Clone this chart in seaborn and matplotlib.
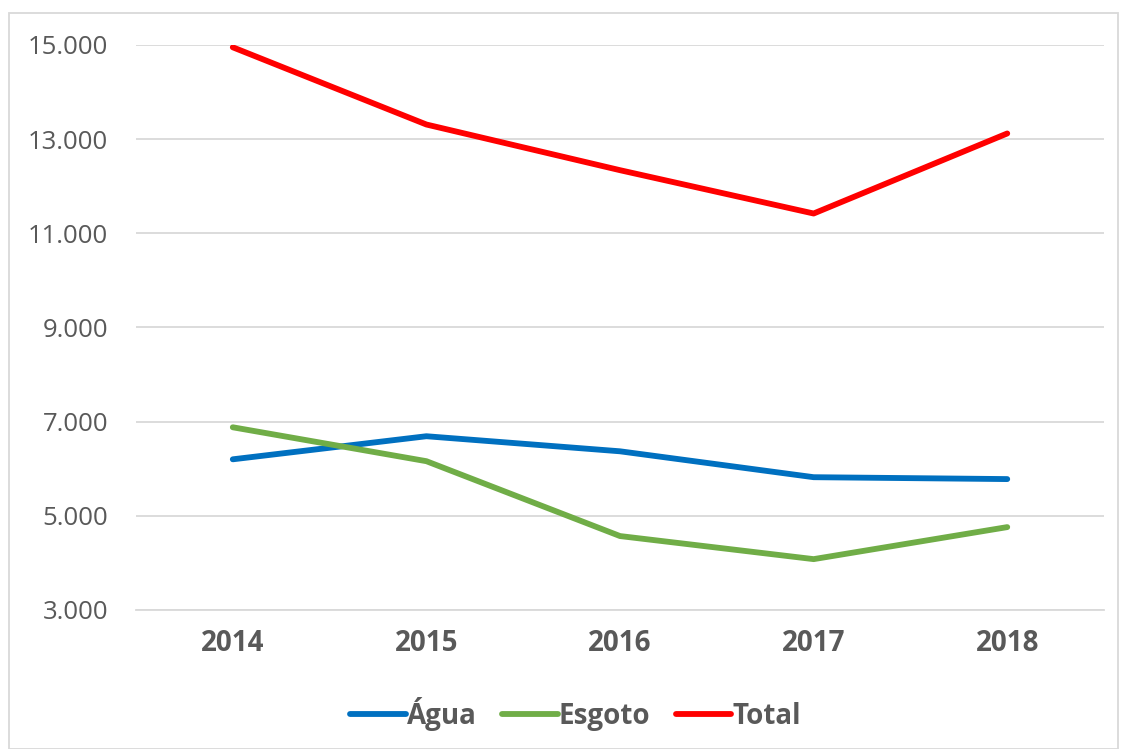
import numpy as np
import pandas as pd
import matplotlib.pyplot as plt
import matplotlib.patches as mpatches
import seaborn as sns

years = ["2014", "2015", "2016", "2017", "2018"]
agua = [6200, 6690, 6370, 5820, 5780]
esgoto = [6880, 6160, 4570, 4080, 4760]
total = [14950, 13310, 12340, 11420, 13120]

series_names = ["Água", "Esgoto", "Total"]
colors = ["#0070C0", "#70AD47", "#FF0000"]

df = pd.DataFrame({"ano": years * 3,
                   "valor": agua + esgoto + total,
                   "serie": [s for s in series_names for _ in years]})

sns.set_style("white")
plt.rcParams['font.family'] = ['Open Sans', 'DejaVu Sans']
TXT = "#595959"

fig = plt.figure(figsize=(11.22, 7.49), dpi=100)
ax = fig.add_axes([0.1212, 0.1856, 0.8628, 0.7544])

sns.lineplot(data=df, x="ano", y="valor", hue="serie", palette=colors,
             linewidth=4.2, ax=ax, sort=False, legend=False,
             solid_capstyle="round")

ax.set_xlim(-0.5, 4.5)
ax.set_ylim(3000, 15000)
ax.set_yticks(range(3000, 15001, 2000))
ax.set_yticklabels([f"{v:,}".replace(",", ".") for v in range(3000, 15001, 2000)])
ax.grid(axis="y", color="#D9D9D9", linewidth=1.3)
ax.set_axisbelow(True)
for s in ["top", "right", "left"]:
    ax.spines[s].set_visible(False)
ax.spines["bottom"].set_color("#D9D9D9")
ax.spines["bottom"].set_linewidth(1.3)
ax.set_xlabel("")
ax.set_ylabel("")
ax.tick_params(axis="y", length=0, labelsize=18.5, colors=TXT, pad=20)
ax.tick_params(axis="x", length=0, labelsize=20, colors=TXT, pad=14)
for lab in ax.get_xticklabels():
    lab.set_fontweight("bold")

handles = [plt.Line2D([], [], color=c, linewidth=4.2, solid_capstyle="round")
           for c in colors]
leg = fig.legend(handles, series_names, loc="center", bbox_to_anchor=(0.513, 0.047),
                 ncol=3, frameon=False, handlelength=2.0, handletextpad=0.05,
                 columnspacing=0.9, prop={"size": 20, "weight": "bold"})
for t in leg.get_texts():
    t.set_color(TXT)

border = mpatches.Rectangle((9 / 1122, 0), 1109 / 1122, 1 - 13 / 749,
                            transform=fig.transFigure, fill=False,
                            edgecolor="#D9D9D9", linewidth=1.3)
fig.add_artist(border)

plt.savefig("out.png", dpi=100)
plt.close()
